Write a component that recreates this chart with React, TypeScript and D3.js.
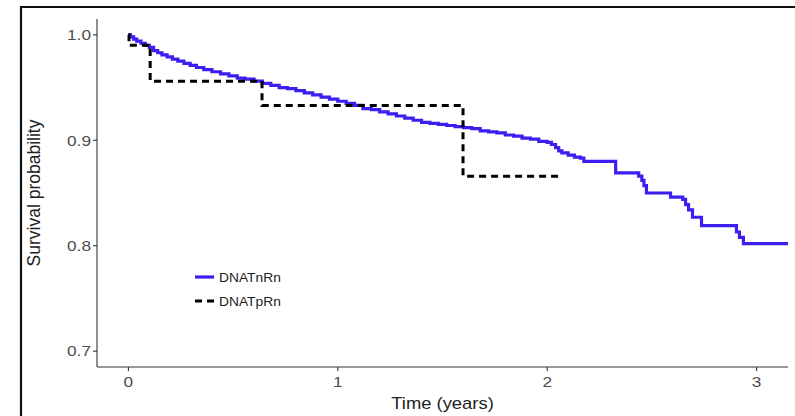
import React from 'react';
import * as d3 from 'd3';

// DNATnRn (solid blue) Kaplan-Meier estimates
const blueTimes = [
  0.0, 0.01, 0.025, 0.04, 0.06, 0.08, 0.1, 0.12, 0.14, 0.16, 0.185, 0.21, 0.236, 0.265, 0.295,
  0.325, 0.36, 0.399, 0.44, 0.48, 0.52, 0.557, 0.6, 0.64, 0.68, 0.72, 0.76, 0.8, 0.84, 0.88,
  0.92, 0.96, 1.0, 1.04, 1.08, 1.12, 1.16, 1.2, 1.24, 1.28, 1.32, 1.36, 1.4, 1.44, 1.48, 1.52,
  1.56, 1.6, 1.64, 1.68, 1.72, 1.76, 1.8, 1.84, 1.88, 1.92, 1.96, 2.0, 2.02, 2.04, 2.055, 2.07,
  2.1, 2.13, 2.158, 2.175, 2.327, 2.437, 2.452, 2.462, 2.474, 2.589, 2.647, 2.661, 2.675, 2.694,
  2.737, 2.904, 2.918, 2.937, 3.15,
];
const blueSurv = [
  1.0, 0.998, 0.996, 0.994, 0.992, 0.99, 0.988, 0.985, 0.983, 0.981, 0.979, 0.977, 0.975, 0.973,
  0.971, 0.969, 0.967, 0.965, 0.963, 0.961, 0.959, 0.958, 0.956, 0.954, 0.952, 0.95, 0.949,
  0.947, 0.945, 0.943, 0.941, 0.939, 0.937, 0.935, 0.933, 0.93, 0.929, 0.927, 0.925, 0.923,
  0.921, 0.919, 0.917, 0.916, 0.915, 0.914, 0.913, 0.912, 0.911, 0.909, 0.908, 0.907, 0.905,
  0.904, 0.902, 0.901, 0.899, 0.898, 0.896, 0.893, 0.89, 0.888, 0.886, 0.884, 0.883, 0.88,
  0.869, 0.866, 0.862, 0.857, 0.85, 0.846, 0.844, 0.839, 0.834, 0.827, 0.819, 0.813, 0.808,
  0.802, 0.802,
];

// DNATpRn (dashed black)
const dashTimes = [0.0, 0.003, 0.104, 0.638, 1.598, 2.052];
const dashSurv = [1.0, 0.99, 0.956, 0.933, 0.866, 0.866];

const seriesNames = ['DNATnRn', 'DNATpRn'];
const xTicks = [0, 1, 2, 3];
const yTicks = [0.7, 0.8, 0.9, 1.0];
const xTitle = 'Time (years)';
const yTitle = 'Survival probability';

const FONT = '"Liberation Sans", Arial, sans-serif';
const BLUE = '#3a1ff0';

function T(props: {
  x: number; y: number; size: number; sx?: number; anchor?: string; fill?: string;
  rotate?: number; children: React.ReactNode;
}) {
  const { x, y, size, sx = 1, anchor = 'start', fill = '#4d4d4d', rotate = 0, children } = props;
  return (
    <text
      transform={`translate(${x},${y}) rotate(${rotate}) scale(${sx},1)`}
      fontSize={size}
      fontFamily={FONT}
      textAnchor={anchor}
      fill={fill}
    >
      {children}
    </text>
  );
}

export default function App() {
  const W = 795;
  const H = 416;
  const left = 97, right = 788, top = 19, bottom = 367;
  const x = d3.scaleLinear().domain([-0.15, 3.15]).range([left, right]);
  const y = d3.scaleLinear().domain([0.685, 1.015]).range([bottom, top]);
  const line = d3
    .line<[number, number]>()
    .x((d) => x(d[0]))
    .y((d) => y(d[1]))
    .curve(d3.curveStepAfter);

  const blue = blueTimes.map((t, i) => [t, blueSurv[i]] as [number, number]);
  const dash = dashTimes.map((t, i) => [t, dashSurv[i]] as [number, number]);

  return (
    <svg
      width={W}
      height={H}
      style={{ position: 'absolute', left: 0, top: 0, background: '#fff' }}
    >
      <rect x={0} y={0} width={W} height={H} fill="#fff" />
      {/* outer frame */}
      <path d={`M21,${H + 5} V7 H${W + 5}`} fill="none" stroke="#111" strokeWidth={2.2} />

      {/* axes */}
      <line x1={left} x2={left} y1={top} y2={bottom} stroke="#333" strokeWidth={1.1} />
      <line x1={left} x2={right} y1={bottom} y2={bottom} stroke="#333" strokeWidth={1.1} />
      {yTicks.map((v) => (
        <g key={'y' + v}>
          <line x1={left - 4} x2={left} y1={y(v)} y2={y(v)} stroke="#333" strokeWidth={1.1} />
          <T x={left - 6} y={y(v) + 5.3} size={15} sx={1.15} anchor="end">
            {v.toFixed(1)}
          </T>
        </g>
      ))}
      {xTicks.map((v) => (
        <g key={'x' + v}>
          <line x1={x(v)} x2={x(v)} y1={bottom} y2={bottom + 4} stroke="#333" strokeWidth={1.1} />
          <T x={x(v)} y={bottom + 20} size={15} sx={1.15} anchor="middle">
            {String(v)}
          </T>
        </g>
      ))}
      <T x={(left + right) / 2} y={409} size={16} sx={1.15} anchor="middle" fill="#222">
        {xTitle}
      </T>
      <T x={40} y={(top + bottom) / 2} size={17.5} rotate={-90} anchor="middle" fill="#222">
        {yTitle}
      </T>

      {/* curves */}
      <path d={line(blue) || ''} fill="none" stroke={BLUE} strokeWidth={3.2} />
      <path
        d={line(dash) || ''}
        fill="none"
        stroke="#000"
        strokeWidth={3}
        strokeDasharray="7,5"
      />

      {/* legend */}
      <line x1={195} x2={214} y1={277} y2={277} stroke={BLUE} strokeWidth={3.2} />
      <line x1={195} x2={214} y1={301} y2={301} stroke="#000" strokeWidth={3} strokeDasharray="7,5" />
      <T x={219} y={281.5} size={12} sx={1.15} fill="#222">
        {seriesNames[0]}
      </T>
      <T x={219} y={305.5} size={12} sx={1.15} fill="#222">
        {seriesNames[1]}
      </T>
    </svg>
  );
}
